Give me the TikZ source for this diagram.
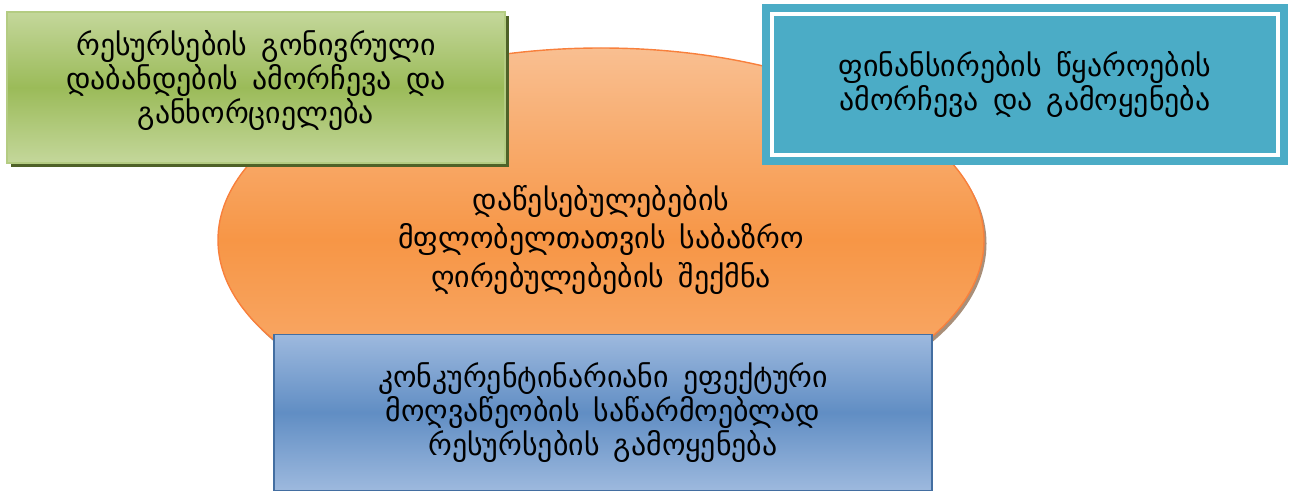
\documentclass[tikz,border=0pt]{standalone}
\usepackage{fontspec}
\setmainfont{DejaVu Sans}[WordSpace=1.5]
\usetikzlibrary{shapes.geometric,shadows}
\definecolor{ogorange}{HTML}{F79646}
\definecolor{oglight}{HTML}{F9BF91}
\definecolor{oggreen}{HTML}{9BBB59}
\definecolor{ogpale}{HTML}{C4D79B}
\definecolor{ogolive}{HTML}{4F6228}
\definecolor{ogteal}{HTML}{4BACC6}
\definecolor{ogblue}{HTML}{4F81BD}
\definecolor{ogsky}{HTML}{9DB9DE}

\begin{document}
\begin{tikzpicture}[
  txt/.style={align=center, text=black, font=\fontsize{17}{19.4}\selectfont},
  card/.style={rectangle, minimum width=#1, inner sep=0pt},
]
  \useasboundingbox (0,0) rectangle (25.9,9.84);
  % value ellipse in the middle
  \node (value) [ellipse, minimum width=15.32cm, minimum height=7.68cm,
    draw=ogorange!85!red, line width=0.8pt,
    top color=oglight, bottom color=oglight!70!ogorange, middle color=ogorange,
    drop shadow={shadow xshift=0.05cm, shadow yshift=-0.07cm, fill=ogorange!45!black, opacity=0.6},
    txt, font=\fontsize{17}{21.8}\selectfont] at (12.02,5.04)
    {დაწესებულებების\\მფლობელთათვის საბაზრო\\ღირებულებების შექმნა};
  % investment box, top left (text sits a little high)
  \node (invest) [card=9.96cm, minimum height=3.02cm,
    draw=oggreen!75!white, line width=0.8pt,
    top color=ogpale, bottom color=ogpale, middle color=oggreen,
    drop shadow={shadow xshift=0.08cm, shadow yshift=-0.08cm, fill=ogolive, opacity=1}]
    at (5.12,8.09) {};
  \node (investtext) [txt] at ([yshift=0.14cm]invest.center)
    {რესურსების გონივრული\\დაბანდების ამორჩევა და\\განხორციელება};
  % financing box, top right
  \node (finance) [card=10.52cm, minimum height=3.22cm, fill=ogteal, txt] at (20.50,8.15)
    {ფინანსირების წყაროების\\ამორჩევა და გამოყენება};
  \draw[white, line width=2pt]
    ([shift={(0.21,-0.21)}]finance.north west) rectangle ([shift={(-0.21,0.21)}]finance.south east);
  % resources box, bottom
  \node (usage) [card=13.16cm, minimum height=3.12cm,
    draw=ogblue!85!black, line width=1pt,
    top color=ogsky, bottom color=ogsky, middle color=ogblue!90!white,
    txt] at (12.06,1.59)
    {კონკურენტინარიანი ეფექტური\\მოღვაწეობის საწარმოებლად\\რესურსების გამოყენება};
\end{tikzpicture}
\end{document}
